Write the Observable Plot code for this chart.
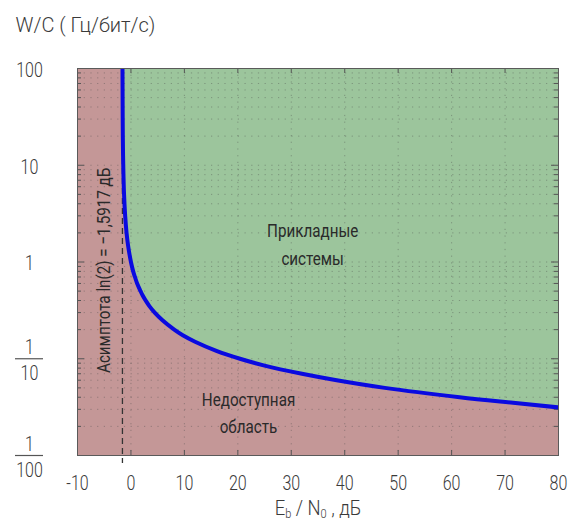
<!DOCTYPE html>
<html>
<head>
<meta charset="utf-8">
<script src="https://cdn.jsdelivr.net/npm/d3@7"></script>
<script src="https://cdn.jsdelivr.net/npm/@observablehq/plot@0.6"></script>
<style>
  html, body { margin: 0; padding: 0; background: #ffffff; }
  #chart { width: 570px; height: 520px; }
</style>
</head>
<body>
<div id="chart"></div>
<script>
// ---- data ----
const xDomain = [-10, 80];          // Eb/N0, dB
const yDomain = [0.01, 100];        // W/C, Hz/(bit/s)
const curveWC   = [100, 50, 20, 10, 5, 3, 2, 1.5, 1, 0.8, 0.7, 0.6, 0.5, 0.45, 0.4, 0.35, 0.3, 0.25, 0.2, 0.175, 0.15, 0.12, 0.1, 0.085, 0.07, 0.06, 0.05, 0.04, 0.035, 0.031, 0.028];
const curveEbN0 = [-1.58, -1.56, -1.52, -1.44, -1.29, -1.08, -0.82, -0.55, 0.0, 0.42, 0.75, 1.16, 1.8, 2.2, 2.75, 3.45, 4.45, 5.9, 8.1, 9.7, 12.0, 16.1, 20.4, 25, 32, 38.5, 47.5, 61.5, 71.5, 81, 90];
const asymptote = -1.5917;
const xTickValues = [-10, 0, 10, 20, 30, 40, 50, 60, 70, 80];
const xTickLabels = ["-10", "0", "10", "20", "30", "40", "50", "60", "70", "80"];
const yTickValues = [100, 10, 1, 0.1, 0.01];
const yTickLabels = ["100", "10", "1", "1\n10", "1\n100"];
const fractionTicks = [0.1, 0.01];
const yLabel = "W/C ( Гц/бит/с)";
const xLabel = "Eb / N0, дБ";
const asymptoteLabel = "Асимптота ln(2) = −1,5917 дБ";
const regionLabels = [
  {text: "Прикладные\nсистемы", x: 34, y: 1.6},
  {text: "Недоступная\nобласть", x: 22, y: 0.029}
];
const asymptoteLabelPos = {x: -5, y: 0.82};

// ---- build ----
const curve = curveWC.map((w, i) => ({wc: w, eb: curveEbN0[i]}));
const W = 570, H = 520, mL = 77, mR = 12, mT = 68, mB = 65;
const innerW = W - mL - mR, innerH = H - mT - mB;
const red = "#c49797", green = "#9cc59c";
const font = "Roboto, 'DejaVu Sans Condensed', sans-serif";
const txt = "#3a3a3a";

const logTicks = d3.scaleLog().domain(yDomain).ticks();
const yMajor = logTicks.filter(v => Math.abs(Math.log10(v) - Math.round(Math.log10(v))) < 1e-9);
const yMinor = logTicks.filter(v => !yMajor.includes(v));
const xInner = xTickValues.filter(v => v > xDomain[0] && v < xDomain[1]);
const yInner = logTicks.filter(v => v > yDomain[0] && v < yDomain[1]);

const dots = {stroke: "#4a4a4a", strokeOpacity: 0.4, strokeDasharray: "1.2,5.5", strokeWidth: 1};
const tickStyle = {stroke: "#555", strokeWidth: 1};

const chart = Plot.plot({
  width: W, height: H,
  marginLeft: mL, marginRight: mR, marginTop: mT, marginBottom: mB,
  style: {fontFamily: font, fontWeight: 300, background: "#ffffff", color: txt, overflow: "visible"},
  x: {domain: xDomain, axis: null},
  y: {type: "log", domain: yDomain, axis: null},
  marks: [
    Plot.frame({fill: red}),
    Plot.areaX(curve, {y: "wc", x1: "eb", x2: () => xDomain[1], fill: green, curve: "catmull-rom", clip: true}),
    Plot.ruleX(xInner, {x: d => d, ...dots}),
    Plot.ruleY(yInner, {y: d => d, ...dots}),
    // inward tick marks
    Plot.tickX(xInner, {x: d => d, insetTop: innerH - 5, ...tickStyle}),
    Plot.tickX(xInner, {x: d => d, insetBottom: innerH - 5, ...tickStyle}),
    Plot.tickY(yMajor, {y: d => d, insetRight: innerW - 7, ...tickStyle}),
    Plot.tickY(yMajor, {y: d => d, insetLeft: innerW - 7, ...tickStyle}),
    Plot.tickY(yMinor, {y: d => d, insetRight: innerW - 4, ...tickStyle}),
    Plot.tickY(yMinor, {y: d => d, insetLeft: innerW - 4, ...tickStyle}),
    // asymptote
    Plot.ruleX([asymptote], {x: d => d, stroke: "#333", strokeWidth: 1.3, strokeDasharray: "6,4", insetBottom: -8}),
    // Shannon limit curve
    Plot.line(curve, {x: "eb", y: "wc", stroke: "#0a0ae0", strokeWidth: 4, curve: "catmull-rom", clip: true}),
    Plot.frame({stroke: "#5a5a5a", strokeWidth: 1}),
    // tick labels
    Plot.text(xTickValues, {x: d => d, text: (d, i) => xTickLabels[i], frameAnchor: "bottom", dy: 34, fontSize: 20, fill: txt}),
    Plot.text(yTickValues, {y: d => d, text: (d, i) => yTickLabels[i], frameAnchor: "left", dx: -48, textAnchor: "middle", fontSize: 20, lineHeight: 1.3, fill: txt}),
    Plot.tickY(fractionTicks, {y: d => d, insetLeft: -(mL - 15), insetRight: innerW + (mL - 43), stroke: "#555", strokeWidth: 1.2}),
    // annotations
    Plot.text(regionLabels, {x: "x", y: "y", text: "text", fontSize: 19, fontWeight: 400, lineHeight: 1.45, fill: "#2a2a2a"}),
    Plot.text([asymptoteLabelPos], {x: "x", y: "y", text: () => asymptoteLabel, rotate: -90, fontSize: 19, fontWeight: 400, fill: "#2a2a2a"}),
    // axis titles
    Plot.text([yLabel], {text: d => d, frameAnchor: "top-left", dx: -62, dy: -51, textAnchor: "start", fontSize: 20, fill: txt}),
    Plot.text([xLabel], {text: d => d, frameAnchor: "bottom", dy: 59, fontSize: 20, fill: txt})
  ]
});

document.getElementById("chart").appendChild(chart);

// subscripts in the x-axis title
d3.select(chart).selectAll("text").filter(function() { return this.textContent === xLabel; }).each(function() {
  const t = d3.select(this);
  t.text(null);
  t.append("tspan").text("E");
  t.append("tspan").attr("font-size", 12).attr("dy", 3).text("b");
  t.append("tspan").attr("dy", -3).text(" / N");
  t.append("tspan").attr("font-size", 12).attr("dy", 3).text("0");
  t.append("tspan").attr("dy", -3).text(" , дБ");
  this.dataset.squeeze = "0.92";
});
d3.select(chart).selectAll("text").filter(function() { return this.textContent === yLabel; })
  .each(function() { this.dataset.squeeze = "1.0"; });

// condense glyphs horizontally to mimic the narrow drafting typeface
d3.select(chart).selectAll("text").each(function() {
  const squeeze = this.dataset.squeeze ? +this.dataset.squeeze : 0.8;
  if (squeeze === 1) return;
  const lines = Array.from(this.querySelectorAll("tspan[x]"));
  const targets = lines.length ? lines : [this];
  for (const el of targets) {
    const len = el.getComputedTextLength();
    if (len > 0) {
      el.setAttribute("textLength", (len * squeeze).toFixed(1));
      el.setAttribute("lengthAdjust", "spacingAndGlyphs");
    }
  }
});
</script>
</body>
</html>
